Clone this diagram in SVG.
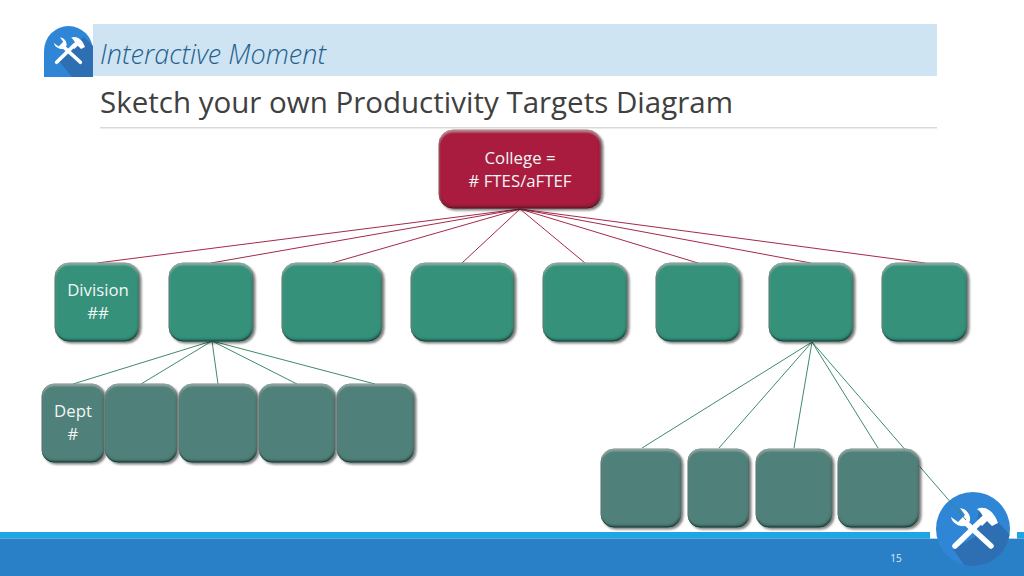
<svg xmlns="http://www.w3.org/2000/svg" width="1024" height="576" viewBox="0 0 1024 576">
<style>
text{font-family:"Open Sans","Liberation Sans",sans-serif}
.lbl{fill:#f2f6f5;font-size:16.8px;text-anchor:middle}
.n{filter:url(#bevel)}
.red{fill:#a91f3f;stroke:#7c1730}
.div{fill:#36917a;stroke:#256a58}
.dept{fill:#4f8079;stroke:#2f5c56}
.cr{stroke:#a5294a;stroke-width:1;fill:none}
.cg{stroke:#3f8a6c;stroke-width:1;fill:none}
.ic{fill:#2f86d6}
.ish{fill:#2d6fb2}
.iw{fill:#fff}
.il{stroke:#fff;stroke-width:5.5;stroke-linecap:round;fill:none}
</style>
<defs>
<filter id="bevel" x="-15%" y="-15%" width="130%" height="130%">
<feGaussianBlur in="SourceAlpha" stdDeviation="1.2" result="b"/>
<feOffset in="b" dx="1.5" dy="2" result="sh"/>
<feFlood flood-color="#000" flood-opacity=".5"/>
<feComposite in2="sh" operator="in" result="drop"/>
<feOffset in="b" dx="-1.2" dy="-1.6" result="o1"/>
<feComposite in="SourceAlpha" in2="o1" operator="out" result="r1"/>
<feFlood flood-color="#06201c" flood-opacity=".7"/>
<feComposite in2="r1" operator="in" result="dark"/>
<feGaussianBlur in="SourceAlpha" stdDeviation=".8" result="b2"/>
<feOffset in="b2" dx="0" dy="2.2" result="o2"/>
<feComposite in="SourceAlpha" in2="o2" operator="out" result="r2"/>
<feFlood flood-color="#fff" flood-opacity=".28"/>
<feComposite in2="r2" operator="in" result="light"/>
<feMerge><feMergeNode in="drop"/><feMergeNode in="SourceGraphic"/><feMergeNode in="dark"/><feMergeNode in="light"/></feMerge>
</filter>
<clipPath id="cc"><circle r="37"/></clipPath>
<g id="x">
<path class="il" d="M-18,17 L10,-10"/>
<path class="iw" d="M4,-20 C12,-24 21,-18 25,-6 L19,-3 L14,-8 L9,-3 L5,-7 L10,-12 C9,-15 7,-18 4,-20 Z"/>
<path class="il" d="M-7,-6 L18,17"/>
<path class="iw" d="M-13,-21 C-6,-20 -2,-14 -3,-8 L-8,-3 C-14,-2 -21,-6 -22,-12 L-15,-7 L-8,-14 Z"/>
</g>
</defs>

<rect x="93" y="24" width="844" height="52" fill="#cfe4f3"/>
<g id="header-icon">
<path class="ic" d="M44,77 V51 A24.5,25 0 0 1 93,51 V77 Z"/>
<path class="ish" d="M58,60 L84,37 L93,46 V77 H72 Z"/>
<use href="#x" transform="translate(68.5,51) scale(.66)"/>
</g>
<text x="100" y="64" font-size="27" font-style="italic" font-weight="300" fill="#1f618f" textLength="226" lengthAdjust="spacingAndGlyphs">Interactive Moment</text>
<text x="100" y="113" font-size="30" fill="#404040" textLength="633" lengthAdjust="spacingAndGlyphs">Sketch your own Productivity Targets Diagram</text>
<rect x="100" y="127" width="837" height="1.5" fill="#d9d9d9"/>

<g id="footer">
<rect x="0" y="532" width="1024" height="6.5" fill="#1fa6e2"/>
<rect x="0" y="538.5" width="1024" height="37.5" fill="#2a80c6"/>
<rect x="930" y="532" width="87" height="6.5" fill="#fff"/>
<text x="896" y="562" font-size="10" fill="#dce9f5" text-anchor="middle">15</text>
</g>
<g id="footer-icon" transform="translate(973,529)">
<circle class="ic" r="37"/>
<path class="ish" clip-path="url(#cc)" d="M-20,20 L2,8 L6,-20 L26,-6 L60,30 L30,60 L8,60 Z"/>
<use href="#x"/>
</g>

<g id="connectors">
<path class="cr" d="M520,209L97,263M520,209L211,263M520,209L332,263M520,209L462,263M520,209L585,263M520,209L698,263M520,209L811,263M520,209L925,263"/>
<path class="cg" d="M212,341L73,384M212,341L141,384M212,341L218,384M212,341L297,384M212,341L375,384"/>
<path class="cg" d="M812,342L642,448M812,342L719,448M812,342L794,448M812,342L878,448M812,342L966,520"/>
</g>

<g id="college"><rect class="n red" x="439" y="130" width="162" height="78" rx="14"/><text class="lbl" x="520" y="164">College =</text><text class="lbl" x="520" y="187"># FTES/aFTEF</text></g>

<g id="division-1"><rect class="n div" x="55" y="263" width="84" height="78" rx="14"/><text class="lbl" x="98" y="296">Division</text><text class="lbl" x="98" y="319">##</text></g>
<g id="division-2"><rect class="n div" x="169" y="263" width="84" height="78" rx="14"/></g>
<g id="division-3"><rect class="n div" x="282" y="263" width="100" height="78" rx="14"/></g>
<g id="division-4"><rect class="n div" x="411" y="263" width="103" height="78" rx="14"/></g>
<g id="division-5"><rect class="n div" x="543" y="263" width="84" height="78" rx="14"/></g>
<g id="division-6"><rect class="n div" x="656" y="263" width="84" height="78" rx="14"/></g>
<g id="division-7"><rect class="n div" x="769" y="263" width="84" height="78" rx="14"/></g>
<g id="division-8"><rect class="n div" x="882" y="263" width="85" height="78" rx="14"/></g>

<g id="dept-1"><rect class="n dept" x="42" y="384" width="62" height="78" rx="12"/><text class="lbl" x="73" y="417">Dept</text><text class="lbl" x="73" y="440">#</text></g>
<g id="dept-2"><rect class="n dept" x="105" y="384" width="72" height="78" rx="13"/></g>
<g id="dept-3"><rect class="n dept" x="179" y="384" width="78" height="78" rx="13"/></g>
<g id="dept-4"><rect class="n dept" x="259" y="384" width="76" height="78" rx="13"/></g>
<g id="dept-5"><rect class="n dept" x="337" y="384" width="77" height="78" rx="13"/></g>

<g id="dept-6"><rect class="n dept" x="601" y="449" width="80" height="78" rx="13"/></g>
<g id="dept-7"><rect class="n dept" x="688" y="449" width="61" height="78" rx="12"/></g>
<g id="dept-8"><rect class="n dept" x="756" y="449" width="76" height="78" rx="13"/></g>
<g id="dept-9"><rect class="n dept" x="838" y="449" width="81" height="78" rx="13"/></g>
</svg>
